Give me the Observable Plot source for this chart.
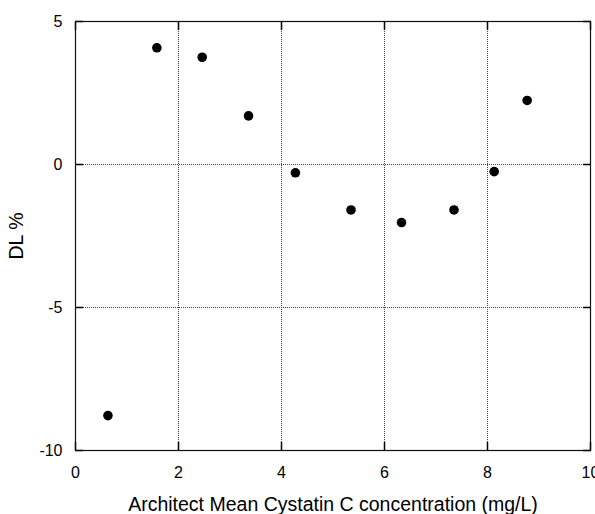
<!DOCTYPE html>
<html>
<head>
<meta charset="utf-8">
<script src="https://cdn.jsdelivr.net/npm/d3@7"></script>
<script src="https://cdn.jsdelivr.net/npm/@observablehq/plot@0.6"></script>
<style>
  html, body { margin: 0; padding: 0; background: #fff; }
  #chart svg { display: block; }
</style>
</head>
<body>
<div id="chart"></div>
<script>
const concentration = [0.63, 1.58, 2.46, 3.36, 4.27, 5.35, 6.33, 7.35, 8.13, 8.77];
const dlPercent = [-8.78, 4.08, 3.75, 1.70, -0.29, -1.59, -2.03, -1.59, -0.25, 2.24];
const xTicks = [0, 2, 4, 6, 8, 10];
const yTicks = [-10, -5, 0, 5];
const xGrid = [2, 4, 6, 8];
const yGrid = [-5, 0];
const xLabel = "Architect Mean Cystatin C concentration (mg/L)";
const yLabel = "DL %";

const points = concentration.map((x, i) => ({x, y: dlPercent[i]}));
const fmt = d => String(d);

const chart = Plot.plot({
  width: 595,
  height: 514,
  marginLeft: 75,
  marginRight: 5,
  marginTop: 21,
  marginBottom: 64,
  style: {fontFamily: "'Liberation Sans', Arial, sans-serif", fontSize: "16px", color: "#000", background: "#fff"},
  x: {domain: [0, 10]},
  y: {domain: [-10, 5]},
  marks: [
    Plot.gridX(xGrid, {stroke: "#444", strokeOpacity: 1, strokeDasharray: "1,1"}),
    Plot.gridY(yGrid, {stroke: "#444", strokeOpacity: 1, strokeDasharray: "1,1"}),
    // inward ticks on all four sides
    Plot.axisX(xTicks, {anchor: "bottom", tickSize: 8, dy: -8, text: null, label: null, stroke: "#000", strokeWidth: 1.5}),
    Plot.axisX(xTicks, {anchor: "top", tickSize: 8, dy: 8, text: null, label: null, stroke: "#000", strokeWidth: 1.5}),
    Plot.axisY(yTicks, {anchor: "left", tickSize: 8, dx: 8, text: null, label: null, stroke: "#000", strokeWidth: 1.5}),
    Plot.axisY(yTicks, {anchor: "right", tickSize: 8, dx: -8, text: null, label: null, stroke: "#000", strokeWidth: 1.5}),
    Plot.frame({stroke: "#111", strokeWidth: 1.2}),
    // tick labels
    Plot.axisX(xTicks, {anchor: "bottom", tickSize: 0, tickPadding: 16, fontSize: 16, fill: "#000", tickFormat: fmt, label: null}),
    Plot.axisY(yTicks, {anchor: "left", tickSize: 0, tickPadding: 13, fontSize: 16, fill: "#000", tickFormat: fmt, label: null}),
    // axis titles
    Plot.axisX([], {anchor: "bottom", tickSize: 0, fontSize: 19.5, fill: "#000",
      label: xLabel, labelAnchor: "center", labelArrow: "none", labelOffset: 60}),
    Plot.axisY([], {anchor: "left", tickSize: 0, fontSize: 19.5, fill: "#000",
      label: yLabel, labelAnchor: "center", labelArrow: "none", labelOffset: 66}),
    Plot.dot(points, {x: "x", y: "y", r: 4.8, fill: "#000", stroke: "none"})
  ]
});
document.getElementById("chart").appendChild(chart);
</script>
</body>
</html>
